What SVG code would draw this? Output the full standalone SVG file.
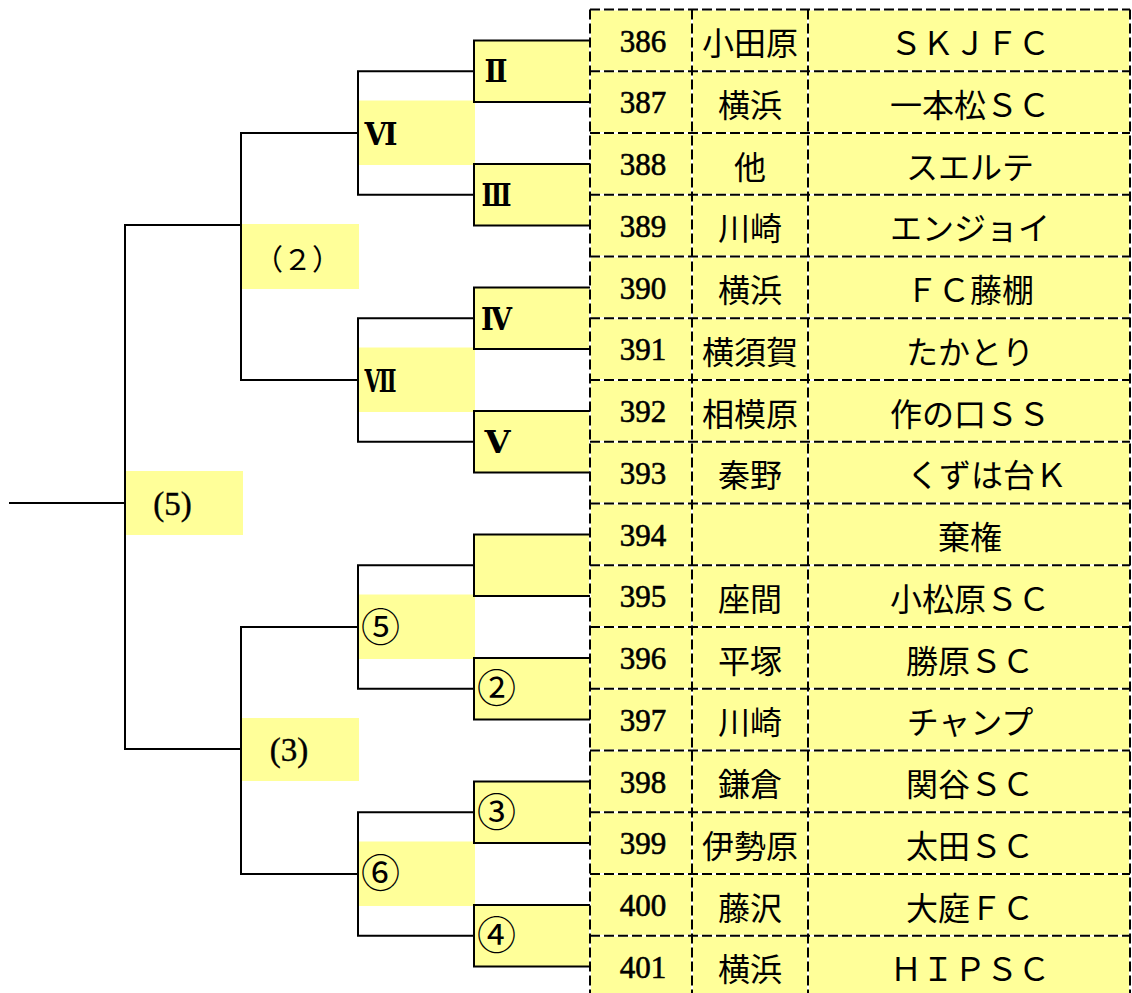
<svg xmlns="http://www.w3.org/2000/svg" width="1132" height="993" viewBox="0 0 1132 993">
<style>
.ln{stroke:#000;stroke-width:2;fill:none}
.yl{fill:#FFFF99}
.wd{stroke:#fff;stroke-width:2}
.dd{stroke:#000;stroke-width:2;stroke-dasharray:10 4}
.num{font-family:"Liberation Serif",serif;font-size:31px;text-anchor:middle;fill:#000;stroke:#000;stroke-width:0.6px}
.jp{font-family:"Noto Sans CJK JP",sans-serif;font-size:32px;text-anchor:middle;dominant-baseline:central;fill:#000}
.rn{font-family:"DejaVu Serif","Noto Sans CJK JP",serif;font-weight:bold;font-size:31px;text-anchor:middle;fill:#000}
.cn{font-family:"Noto Sans CJK JP",sans-serif;font-size:39px;text-anchor:middle;dominant-baseline:central;fill:#000}
.pl{font-family:"Liberation Serif",serif;font-size:33px;text-anchor:middle;fill:#000;stroke:#000;stroke-width:0.4px}
</style>
<rect width="1132" height="993" fill="#fff"/>
<rect class="yl" x="590" y="9.5" width="540" height="990"/>
<g id="labels-bg">
<rect class="yl" x="358" y="100.5" width="117" height="64.5"/>
<rect class="yl" x="358" y="347.5" width="117" height="64.5"/>
<rect class="yl" x="358" y="594.5" width="117" height="64.5"/>
<rect class="yl" x="358" y="841.5" width="117" height="64.5"/>
<rect class="yl" x="241" y="224" width="118" height="65"/>
<rect class="yl" x="241" y="718" width="118" height="63"/>
<rect class="yl" x="126" y="471" width="117" height="64"/>
</g>
<g id="boxes">
<rect class="yl" x="474" y="40.4" width="116" height="61.7"/>
<rect class="yl" x="474" y="163.9" width="116" height="61.7"/>
<rect class="yl" x="474" y="287.4" width="116" height="61.7"/>
<rect class="yl" x="474" y="410.9" width="116" height="61.7"/>
<rect class="yl" x="474" y="534.4" width="116" height="61.7"/>
<rect class="yl" x="474" y="657.9" width="116" height="61.7"/>
<rect class="yl" x="474" y="781.4" width="116" height="61.7"/>
<rect class="yl" x="474" y="904.9" width="116" height="61.7"/>
</g>
<g id="grid">
<path class="wd" d="M590,9.5H1130M590,71.25H1130M590,133H1130M590,194.75H1130M590,256.5H1130M590,318.25H1130M590,380H1130M590,441.75H1130M590,503.5H1130M590,565.25H1130M590,627H1130M590,688.75H1130M590,750.5H1130M590,812.25H1130M590,874H1130M590,935.75H1130M590,9.5V993M692,9.5V993M808,9.5V993M1130,9.5V993"/>
<path class="dd" d="M590,9.5H1130M590,71.25H1130M590,133H1130M590,194.75H1130M590,256.5H1130M590,318.25H1130M590,380H1130M590,441.75H1130M590,503.5H1130M590,565.25H1130M590,627H1130M590,688.75H1130M590,750.5H1130M590,812.25H1130M590,874H1130M590,935.75H1130M590,9.5V993M692,9.5V993M808,9.5V993M1130,9.5V993"/>
</g>
<g id="connectors" class="ln">
<path d="M590,40.4H474V102.1H590M590,163.9H474V225.6H590M590,287.4H474V349.1H590M590,410.9H474V472.6H590M590,534.4H474V596.1H590M590,657.9H474V719.6H590M590,781.4H474V843.1H590M590,904.9H474V966.6H590"/>
<path d="M474,71.25H358V194.75H474M474,318.25H358V441.75H474M474,565.25H358V688.75H474M474,812.25H358V935.75H474"/>
<path d="M358,133H241V380H358M358,627H241V874H358"/>
<path d="M241,225H125V749H241M9,503H125"/>
</g>
<g id="n-II"><text class="rn" x="496" y="82" textLength="23" lengthAdjust="spacingAndGlyphs">Ⅱ</text></g>
<g id="n-III"><text class="rn" x="496.5" y="206" textLength="30" lengthAdjust="spacingAndGlyphs">Ⅲ</text></g>
<g id="n-IV"><text class="rn" x="496.5" y="329.5" textLength="31" lengthAdjust="spacingAndGlyphs">Ⅳ</text></g>
<g id="n-V"><text class="rn" x="497.5" y="453" textLength="26" lengthAdjust="spacingAndGlyphs">Ⅴ</text></g>
<g id="n-VI"><text class="rn" x="381" y="145" textLength="33" lengthAdjust="spacingAndGlyphs">Ⅵ</text></g>
<g id="n-VII"><text class="rn" x="380.5" y="392" textLength="32" lengthAdjust="spacingAndGlyphs">Ⅶ</text></g>
<g id="n-c5"><text class="cn" x="380.5" y="624">⑤</text></g>
<g id="n-c2"><text class="cn" x="496.5" y="685">②</text></g>
<g id="n-c3"><text class="cn" x="496.5" y="809">③</text></g>
<g id="n-c6"><text class="cn" x="380.5" y="870">⑥</text></g>
<g id="n-c4"><text class="cn" x="496.5" y="932">④</text></g>
<g id="n-p2"><text class="jp" x="297.5" y="257" style="font-size:29px">（２）</text></g>
<g id="n-p3"><text class="pl" x="289" y="761">(3)</text></g>
<g id="n-p5"><text class="pl" x="172.5" y="515">(5)</text></g>
<g id="r386"><text class="num" x="643" y="51.5">386</text><text class="jp" x="750" y="41">小田原</text><text class="jp" x="970" y="41">ＳＫＪＦＣ</text></g>
<g id="r387"><text class="num" x="643" y="113.25">387</text><text class="jp" x="750" y="102.75">横浜</text><text class="jp" x="970" y="102.75">一本松ＳＣ</text></g>
<g id="r388"><text class="num" x="643" y="175">388</text><text class="jp" x="750" y="164.5">他</text><text class="jp" x="970" y="164.5">スエルテ</text></g>
<g id="r389"><text class="num" x="643" y="236.75">389</text><text class="jp" x="750" y="226.25">川崎</text><text class="jp" x="970" y="226.25">エンジョイ</text></g>
<g id="r390"><text class="num" x="643" y="298.5">390</text><text class="jp" x="750" y="288">横浜</text><text class="jp" x="970" y="288">ＦＣ藤棚</text></g>
<g id="r391"><text class="num" x="643" y="360.25">391</text><text class="jp" x="750" y="349.75">横須賀</text><text class="jp" x="970" y="349.75">たかとり</text></g>
<g id="r392"><text class="num" x="643" y="422">392</text><text class="jp" x="750" y="411.5">相模原</text><text class="jp" x="970" y="411.5">作の口ＳＳ</text></g>
<g id="r393"><text class="num" x="643" y="483.75">393</text><text class="jp" x="750" y="473.25">秦野</text><text class="jp" x="987" y="473.25">くずは台Ｋ</text></g>
<g id="r394"><text class="num" x="643" y="545.5">394</text><text class="jp" x="970" y="535">棄権</text></g>
<g id="r395"><text class="num" x="643" y="607.25">395</text><text class="jp" x="750" y="596.75">座間</text><text class="jp" x="970" y="596.75">小松原ＳＣ</text></g>
<g id="r396"><text class="num" x="643" y="669">396</text><text class="jp" x="750" y="658.5">平塚</text><text class="jp" x="970" y="658.5">勝原ＳＣ</text></g>
<g id="r397"><text class="num" x="643" y="730.75">397</text><text class="jp" x="750" y="720.25">川崎</text><text class="jp" x="970" y="720.25">チャンプ</text></g>
<g id="r398"><text class="num" x="643" y="792.5">398</text><text class="jp" x="750" y="782">鎌倉</text><text class="jp" x="970" y="782">関谷ＳＣ</text></g>
<g id="r399"><text class="num" x="643" y="854.25">399</text><text class="jp" x="750" y="843.75">伊勢原</text><text class="jp" x="970" y="843.75">太田ＳＣ</text></g>
<g id="r400"><text class="num" x="643" y="916">400</text><text class="jp" x="750" y="905.5">藤沢</text><text class="jp" x="970" y="905.5">大庭ＦＣ</text></g>
<g id="r401"><text class="num" x="643" y="977.75">401</text><text class="jp" x="750" y="967.25">横浜</text><text class="jp" x="970" y="967.25">ＨＩＰＳＣ</text></g>
</svg>
